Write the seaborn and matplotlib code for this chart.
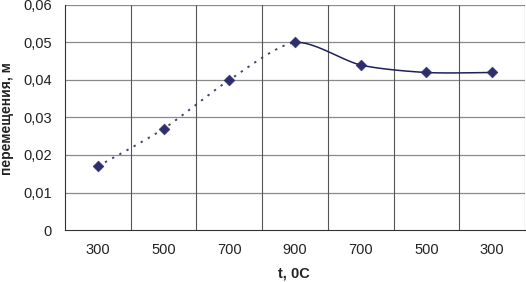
import numpy as np
import pandas as pd
import matplotlib
matplotlib.use("Agg")
import matplotlib.pyplot as plt
import seaborn as sns
from matplotlib.ticker import FixedLocator, FuncFormatter

categories = ["300", "500", "700", "900", "700", "500", "300"]
values = [0.017, 0.027, 0.040, 0.050, 0.044, 0.042, 0.042]
yticks = [0, 0.01, 0.02, 0.03, 0.04, 0.05, 0.06]
ylabel = "перемещения, м"
xlabel = "t, 0C"

sns.set_style("white")
plt.rcParams['font.family'] = ['Liberation Sans', 'DejaVu Sans']

fig = plt.figure(figsize=(5.26, 2.82), dpi=100)
ax = fig.add_axes([65/526, 1-230/282, 460/526, 225/282])

x = np.arange(len(categories))
y = np.array(values)

# Cardinal-spline smoothing (Excel-like smoothed line)
def smooth(xs, ys, n=30, k=0.4):
    px = np.concatenate([[xs[0]], xs, [xs[-1]]])
    py = np.concatenate([[ys[0]], ys, [ys[-1]]])
    segs = []
    for i in range(1, len(px)-2):
        t = np.linspace(0, 1, n)
        h00 = 2*t**3 - 3*t**2 + 1
        h10 = t**3 - 2*t**2 + t
        h01 = -2*t**3 + 3*t**2
        h11 = t**3 - t**2
        def cr(p):
            m1 = k*(p[i+1]-p[i-1])
            m2 = k*(p[i+2]-p[i])
            return h00*p[i] + h10*m1 + h01*p[i+1] + h11*m2
        segs.append((i-1, cr(px), cr(py)))
    return segs

segs = smooth(x.astype(float), y)
line_color = "#1f1f5c"
dot_rows, solid_rows = [], []
for idx, sx, sy in segs:
    rows = dot_rows if idx < 3 else solid_rows
    for a, b in zip(sx, sy):
        rows.append((a, b))
dot_df = pd.DataFrame(dot_rows, columns=["x", "y"])
solid_df = pd.DataFrame(solid_rows, columns=["x", "y"])

sns.lineplot(data=dot_df, x="x", y="y", ax=ax, color="#45456e", lw=1.4,
             linestyle=(0, (1.2, 3.0)), sort=False, estimator=None)
sns.lineplot(data=solid_df, x="x", y="y", ax=ax, color=line_color, lw=1.1,
             sort=False, estimator=None)
pts = pd.DataFrame({"x": x, "y": y})
sns.scatterplot(data=pts, x="x", y="y", ax=ax, marker="D", s=30,
                color="#2e2e6e", edgecolor="#2e2e6e", zorder=5)

ax.set_xlim(-0.5, len(categories)-0.5)
ax.set_ylim(0, 0.06)
ax.set_yticks(yticks)
ax.yaxis.set_major_formatter(FuncFormatter(lambda v, p: "0" if v == 0 else f"{v:.2f}".replace(".", ",")))
ax.set_xticks(x)
ax.set_xticklabels(categories)
ax.xaxis.set_minor_locator(FixedLocator(np.arange(-0.5, len(categories), 1.0)))
ax.tick_params(axis="x", which="major", length=0, pad=9, labelsize=10.5, colors="#222222")
ax.tick_params(axis="x", which="minor", length=4, width=0.8, color="#333333", direction="out")
ax.tick_params(axis="y", which="major", length=4, width=0.8, color="#333333", labelsize=10.5,
               labelcolor="#222222", pad=5.5, direction="out")
ax.grid(False)
for v in yticks[1:]:
    ax.axhline(v, color="#8a8a8a", lw=0.9, zorder=0)
for b in np.arange(0.5, len(categories), 1.0):
    ax.axvline(b, color="#555555", lw=0.8, zorder=0)

for s in ["top", "right"]:
    ax.spines[s].set_visible(False)
for s in ["left", "bottom"]:
    ax.spines[s].set_color("#333333")
    ax.spines[s].set_linewidth(0.8)

ax.set_xlabel("")
ax.set_ylabel("")
fig.text(294/526, 1-273/282, xlabel, fontsize=10.5, fontweight="bold",
         ha="center", va="center", color="#222222")
fig.text(7/526, 1-119/282, ylabel, fontsize=10, fontweight="bold", rotation=90,
         ha="center", va="center", color="#222222")

fig.savefig("out.png", dpi=100)
